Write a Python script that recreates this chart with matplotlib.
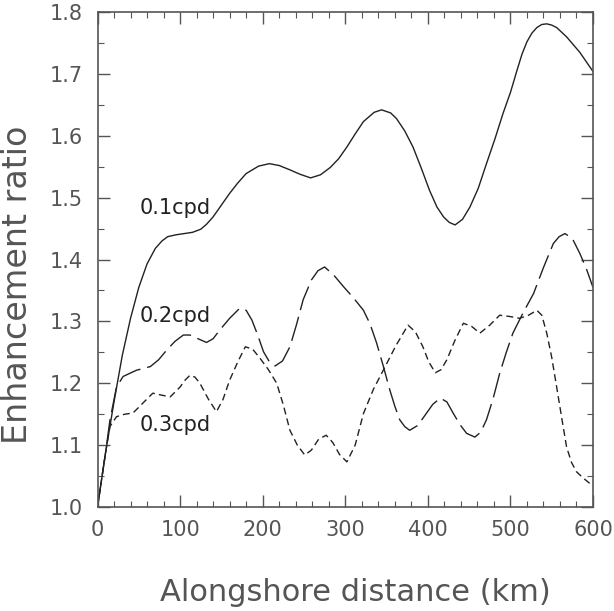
import matplotlib
matplotlib.use("Agg")
from matplotlib import pyplot as plt
from matplotlib.ticker import MultipleLocator, FormatStrFormatter

# 0.1cpd curve (solid)
x_01 = [0, 5, 10, 15, 20, 30, 40, 50, 60, 70, 78, 85, 95, 105, 115, 125, 132,
        140, 150, 160, 170, 180, 195, 208, 220, 233, 245, 258, 270, 282, 292,
        302, 312, 322, 335, 344, 355, 362, 372, 382, 392, 402, 411, 419, 426,
        433, 442, 451, 461, 471, 481, 491, 500, 508, 514, 520, 526, 532, 538,
        544, 550, 556, 568, 584, 600]
y_01 = [1.000, 1.045, 1.090, 1.130, 1.170, 1.245, 1.305, 1.355, 1.393, 1.418,
        1.430, 1.437, 1.440, 1.442, 1.444, 1.449, 1.457, 1.469, 1.488, 1.507,
        1.524, 1.539, 1.551, 1.555, 1.552, 1.545, 1.538, 1.532, 1.537, 1.549,
        1.563, 1.582, 1.603, 1.623, 1.638, 1.642, 1.637, 1.628, 1.608, 1.582,
        1.548, 1.512, 1.485, 1.469, 1.460, 1.456, 1.465, 1.485, 1.515, 1.555,
        1.594, 1.636, 1.670, 1.706, 1.732, 1.752, 1.766, 1.775, 1.780, 1.781,
        1.779, 1.775, 1.760, 1.735, 1.704]

# 0.2cpd curve (long dash)
x_02 = [0, 5, 10, 15, 23, 31, 47, 64, 74, 84, 94, 104, 112, 120, 132, 140,
        148, 160, 172, 180, 187, 194, 201, 208, 215, 224, 233, 241, 249, 259,
        267, 275, 286, 298, 310, 322, 330, 338, 346, 354, 360, 366, 372, 378,
        388, 398, 406, 415, 423, 431, 439, 447, 457, 464, 471, 479, 487, 495,
        503, 515, 528, 540, 552, 559, 566, 575, 584, 592, 600]
y_02 = [1.000, 1.045, 1.090, 1.140, 1.194, 1.211, 1.221, 1.227, 1.238, 1.254,
        1.268, 1.278, 1.278, 1.273, 1.266, 1.272, 1.286, 1.305, 1.321, 1.318,
        1.302, 1.278, 1.251, 1.235, 1.228, 1.236, 1.259, 1.295, 1.335, 1.367,
        1.382, 1.388, 1.375, 1.356, 1.338, 1.318, 1.296, 1.265, 1.228, 1.189,
        1.163, 1.141, 1.130, 1.124, 1.132, 1.151, 1.166, 1.176, 1.170, 1.151,
        1.133, 1.119, 1.113, 1.121, 1.141, 1.175, 1.216, 1.250, 1.281, 1.313,
        1.345, 1.387, 1.426, 1.437, 1.442, 1.434, 1.410, 1.385, 1.355]

# 0.3cpd curve (short dash)
x_03 = [0, 5, 10, 15, 23, 33, 43, 55, 67, 77, 88, 100, 106, 112, 118, 124,
        134, 144, 152, 160, 170, 179, 188, 197, 207, 217, 225, 233, 242, 251,
        259, 268, 277, 285, 293, 302, 312, 322, 334, 346, 361, 376, 385, 394,
        401, 409, 416, 423, 433, 443, 453, 463, 475, 487, 499, 511, 522, 532,
        538, 544, 550, 556, 562, 568, 574, 580, 588, 598, 600]
y_03 = [1.000, 1.045, 1.090, 1.130, 1.146, 1.150, 1.152, 1.168, 1.184, 1.181,
        1.178, 1.194, 1.205, 1.213, 1.210, 1.200, 1.175, 1.154, 1.174, 1.205,
        1.235, 1.259, 1.255, 1.240, 1.222, 1.200, 1.165, 1.124, 1.100, 1.084,
        1.092, 1.110, 1.116, 1.104, 1.085, 1.073, 1.100, 1.151, 1.190, 1.221,
        1.260, 1.294, 1.283, 1.259, 1.235, 1.217, 1.222, 1.238, 1.270, 1.297,
        1.292, 1.281, 1.294, 1.310, 1.308, 1.305, 1.310, 1.318, 1.310, 1.281,
        1.242, 1.194, 1.145, 1.097, 1.072, 1.057, 1.047, 1.036, 1.034]

curve_labels = ["0.1cpd", "0.2cpd", "0.3cpd"]
label_x = [51, 51, 51]
label_y = [1.483, 1.309, 1.132]

x_ticks = [0, 100, 200, 300, 400, 500, 600]
y_ticks = [1.0, 1.1, 1.2, 1.3, 1.4, 1.5, 1.6, 1.7, 1.8]

ink = "#222222"
grey = "#555555"

fig = plt.figure(figsize=(6.14, 6.11), dpi=100)
ax = fig.add_axes([0.1588, 0.1702, 0.807, 0.810])

ax.plot(x_01, y_01, color=ink, lw=1.0)
ax.plot(x_02, y_02, color=ink, lw=1.0, dashes=(18, 5))
ax.plot(x_03, y_03, color=ink, lw=1.0, dashes=(5, 3))

for lab, lx, ly in zip(curve_labels, label_x, label_y):
    ax.text(lx, ly, lab, fontsize=15, color=ink, va="center", ha="left")

# Axes limits and ticks
ax.set_xlim(0, 600)
ax.set_ylim(1.0, 1.8)
ax.set_xticks(x_ticks)
ax.set_yticks(y_ticks)
ax.xaxis.set_minor_locator(MultipleLocator(20))
ax.yaxis.set_minor_locator(MultipleLocator(0.05))
ax.yaxis.set_major_formatter(FormatStrFormatter("%.1f"))
ax.tick_params(which="both", direction="in", top=True, right=True,
               colors=grey, labelsize=15)
ax.tick_params(which="major", length=8.5, width=1.0)
ax.tick_params(which="minor", length=4.3, width=0.8)
ax.tick_params(axis="x", which="major", pad=9)
ax.tick_params(axis="y", which="major", pad=10.5)
for sp in ax.spines.values():
    sp.set_color(grey)
    sp.set_linewidth(1.2)

ax.set_xlabel("Alongshore distance (km)", fontsize=22, color=grey)
ax.set_ylabel("Enhancement ratio", fontsize=24, color=grey)
ax.xaxis.set_label_coords(0.52, -0.143)
ax.xaxis.label.set_va("top")
ax.yaxis.set_label_coords(-0.128, 0.45)

plt.savefig("out.png", dpi=100)
